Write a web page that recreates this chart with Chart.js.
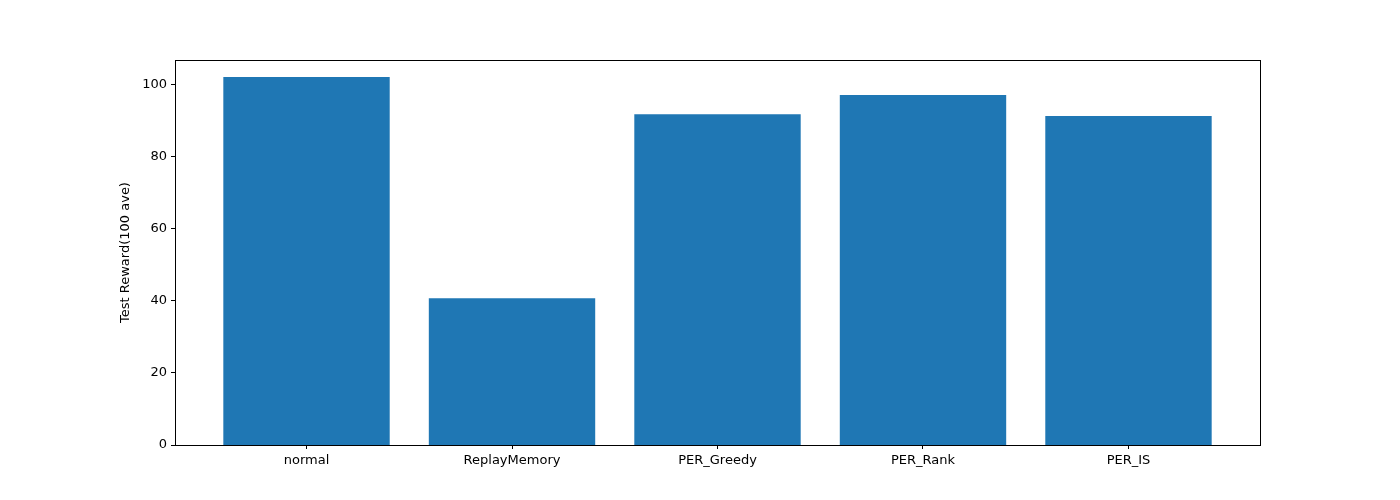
<!DOCTYPE html>
<html>
<head>
<meta charset="utf-8">
<script src="https://cdn.jsdelivr.net/npm/chart.js@4/dist/chart.umd.min.js"></script>
<style>
  html, body { margin:0; padding:0; background:#fff; }
  #wrap { width:1400px; height:500px; }
</style>
</head>
<body>
<div id="wrap"><canvas id="bars"></canvas></div>
<script>
const methods = ["normal", "ReplayMemory", "PER_Greedy", "PER_Rank", "PER_IS"];
const rewards = [101.7, 40.4, 91.4, 96.7, 90.9];
const yTicks = [0, 20, 40, 60, 80, 100];
const yTitle = "Test Reward(100 ave)";

const font = { family: "DejaVu Sans", size: 13 };

// frame around the plot area, like matplotlib's spines
const frame = {
    id: "frame",
    afterDraw(chart) {
        const a = chart.chartArea, c = chart.ctx;
        c.save();
        c.strokeStyle = "#000";
        c.lineWidth = 1;
        c.strokeRect(Math.round(a.left) + 0.5, Math.round(a.top) + 0.5,
            Math.round(a.right - a.left), Math.round(a.bottom - a.top));
        c.restore();
    }
};

new Chart(document.getElementById("bars"), {
    type: "bar",
    data: {
        datasets: [{
            data: rewards.map((v, i) => ({ x: i, y: v })),
            backgroundColor: "#1f77b4",
            borderColor: "#1f77b4",
            borderWidth: 0,
            inflateAmount: 1,
            barPercentage: 0.8,
            categoryPercentage: 1.0
        }]
    },
    options: {
        responsive: true,
        maintainAspectRatio: false,
        animation: false,
        devicePixelRatio: 1,
        layout: { padding: { top: 60, right: 140, bottom: 0, left: 118 } },
        plugins: { legend: { display: false }, tooltip: { enabled: false } },
        scales: {
            x: {
                type: "linear",
                offset: false,
                min: -0.64,
                max: 4.64,
                grid: { display: true, offset: false, drawOnChartArea: false, color: "#000", tickLength: 4 },
                border: { display: false },
                afterBuildTicks: s => { s.ticks = methods.map((m, i) => ({ value: i })); },
                afterFit: s => { s.height = 55; },
                ticks: {
                    color: "#000",
                    font: font,
                    padding: 4,
                    maxRotation: 0,
                    autoSkip: false,
                    callback: v => methods[v]
                }
            },
            y: {
                min: 0,
                max: 106.7,
                grid: { display: true, drawOnChartArea: false, color: "#000", tickLength: 4 },
                border: { display: false },
                afterBuildTicks: s => { s.ticks = yTicks.map(v => ({ value: v })); },
                afterFit: s => { s.width = 57; },
                title: { display: true, text: yTitle, color: "#000", font: font, padding: 0 },
                ticks: { color: "#000", font: font, padding: 4 }
            }
        }
    },
    plugins: [frame]
});
</script>
</body>
</html>
